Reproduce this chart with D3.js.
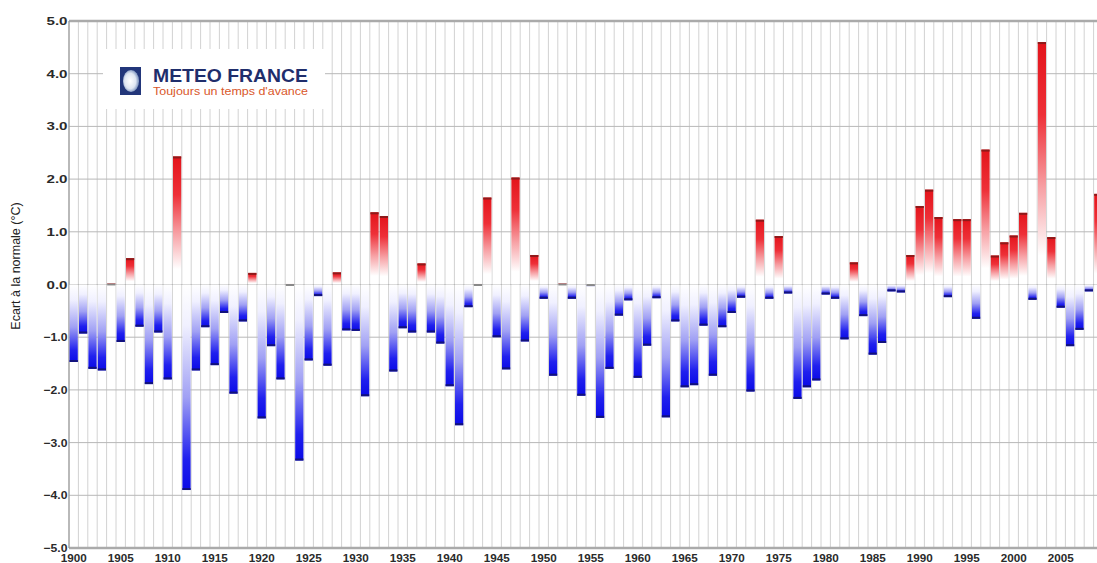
<!DOCTYPE html>
<html><head><meta charset="utf-8">
<script src="https://cdn.jsdelivr.net/npm/d3@7"></script>
<style>body{margin:0;background:#fff;overflow:hidden}</style>
</head><body>
<svg id="c" width="1097" height="563"></svg>
<script>
// ---- data ----
const firstYear = 1900;
const anomalies = [
 -1.47,-0.93,-1.60,-1.63, 0.02,-1.09, 0.50,-0.80,-1.89,-0.91,  // 1900-1909
 -1.80, 2.43,-3.90,-1.63,-0.81,-1.53,-0.54,-2.07,-0.70, 0.22,  // 1910-1919
 -2.54,-1.17,-1.80, 0.01,-3.34,-1.44,-0.22,-1.54, 0.23,-0.87,  // 1920-1929
 -0.88,-2.12, 1.37, 1.30,-1.65,-0.83,-0.91, 0.40,-0.91,-1.12,  // 1930-1939
 -1.93,-2.67,-0.43, 0.01, 1.65,-1.00,-1.61, 2.03,-1.08, 0.56,  // 1940-1949
 -0.27,-1.73, 0.02,-0.27,-2.11,-0.03,-2.53,-1.60,-0.59,-0.30,  // 1950-1959
 -1.77,-1.16,-0.26,-2.52,-0.70,-1.95,-1.91,-0.78,-1.73,-0.81,  // 1960-1969
 -0.54,-0.25,-2.03, 1.23,-0.27, 0.92,-0.17,-2.17,-1.95,-1.82,  // 1970-1979
 -0.19,-0.27,-1.04, 0.42,-0.60,-1.33,-1.11,-0.13,-0.15, 0.56,  // 1980-1989
  1.49, 1.80, 1.28,-0.24, 1.24, 1.24,-0.65, 2.56, 0.55, 0.80,  // 1990-1999
  0.93, 1.36,-0.29, 4.60, 0.90,-0.44,-1.17,-0.86,-0.13, 1.72   // 2000-2009
];
const years = anomalies.map((_, i) => firstYear + i);
const yTicks = [-5,-4,-3,-2,-1,0,1,2,3,4,5];
const xTickYears = [1900,1905,1910,1915,1920,1925,1930,1935,1940,1945,1950,1955,1960,1965,1970,1975,1980,1985,1990,1995,2000,2005];
const yTitle = "Ecart à la normale (°C)";
const logoTitle = "METEO FRANCE";
const logoSub = "Toujours un temps d'avance";

// ---- layout ----
const svg = d3.select("#c");
const left = 69, step = 9.4;
const x = d3.scaleBand().domain(years).range([left, left + years.length * step]).padding(0);
const y = d3.scaleLinear().domain([-5, 5]).range([548, 21]);
const font = "Liberation Sans, Arial, sans-serif";

const defs = svg.append("defs");
function grad(id, stops) {
  const g = defs.append("linearGradient").attr("id", id).attr("x1",0).attr("y1",0).attr("x2",0).attr("y2",1);
  stops.forEach(s => g.append("stop").attr("offset", s[0]).attr("stop-color", s[1]));
}
grad("gPos", [["0%","#e3141b"],["30%","#ee3038"],["60%","#f7a0a4"],["88%","#ffffff"]]);
grad("gNeg", [["0%","#ffffff"],["20%","#f0f0ff"],["55%","#a0a0f4"],["85%","#2020ee"],["100%","#0a0ae6"]]);
const gLogo = defs.append("radialGradient").attr("id","gLogo").attr("cx","0.45").attr("cy","0.5").attr("r","0.5");
gLogo.append("stop").attr("offset","0%").attr("stop-color","#ffffff");
gLogo.append("stop").attr("offset","70%").attr("stop-color","#dfe6f2");
gLogo.append("stop").attr("offset","100%").attr("stop-color","#8fa3c8");

// vertical grid (year boundaries)
svg.append("g").selectAll("line").data(years.concat([firstYear + years.length]))
  .join("line")
  .attr("x1", (d,i) => left + i*step).attr("x2", (d,i) => left + i*step)
  .attr("y1", y(5)).attr("y2", y(-5))
  .attr("stroke", "#d2d2d2").attr("stroke-width", 1);

// horizontal grid
svg.append("g").selectAll("line").data(yTicks.filter(t => t > -5 && t < 5))
  .join("line")
  .attr("x1", left).attr("x2", 1097)
  .attr("y1", d => y(d)).attr("y2", d => y(d))
  .attr("stroke", "#b8b8b8").attr("stroke-width", 1);

// frame lines
svg.append("line").attr("x1", left).attr("x2", 1097).attr("y1", y(5)).attr("y2", y(5))
  .attr("stroke", "#aaaaaa").attr("stroke-width", 2.5);
svg.append("line").attr("x1", left).attr("x2", 1097).attr("y1", y(-5)).attr("y2", y(-5))
  .attr("stroke", "#aaaaaa").attr("stroke-width", 2.5);
svg.append("line").attr("x1", left).attr("x2", left).attr("y1", y(5)).attr("y2", y(-5))
  .attr("stroke", "#999999").attr("stroke-width", 1.2);

// logo box
const logo = svg.append("g");
logo.append("rect").attr("x", 103).attr("y", 49).attr("width", 222).attr("height", 60).attr("fill", "#ffffff");
logo.append("rect").attr("x", 120).attr("y", 67).attr("width", 21).attr("height", 28).attr("fill", "#22367a");
logo.append("ellipse").attr("cx", 131).attr("cy", 81).attr("rx", 8).attr("ry", 11).attr("fill", "url(#gLogo)");
logo.append("text").attr("x", 153).attr("y", 82).text(logoTitle)
  .attr("font-family", font).attr("font-weight", "bold")
  .attr("font-size", 18.5).attr("fill", "#1f2e6c").attr("textLength", 155).attr("lengthAdjust", "spacingAndGlyphs");
logo.append("text").attr("x", 153).attr("y", 95).text(logoSub)
  .attr("font-family", font)
  .attr("font-size", 10.5).attr("fill", "#d9572a").attr("textLength", 155).attr("lengthAdjust", "spacingAndGlyphs");

// bars
const bars = svg.append("g");
bars.selectAll("rect").data(years).join("rect")
  .attr("x", d => x(d) + 0.6)
  .attr("width", x.bandwidth() - 1.2)
  .attr("y", (d,i) => anomalies[i] >= 0 ? y(anomalies[i]) : y(0))
  .attr("height", (d,i) => Math.abs(y(anomalies[i]) - y(0)))
  .attr("fill", (d,i) => anomalies[i] >= 0 ? "url(#gPos)" : "url(#gNeg)");
// dark end caps
bars.selectAll("line").data(years).join("line")
  .attr("x1", d => x(d) + 0.6).attr("x2", d => x(d) + x.bandwidth() - 0.6)
  .attr("y1", (d,i) => y(anomalies[i]) + (anomalies[i] >= 0 ? 1 : -1))
  .attr("y2", (d,i) => y(anomalies[i]) + (anomalies[i] >= 0 ? 1 : -1))
  .attr("stroke", (d,i) => Math.abs(anomalies[i]) < 0.05 ? "#888888" : (anomalies[i] >= 0 ? "#8e1a1a" : "#12127a"))
  .attr("stroke-width", 2);

// y axis labels
svg.append("g").selectAll("text").data(yTicks).join("text")
  .attr("x", 67.5).attr("y", d => y(d) + 4)
  .attr("text-anchor", "end")
  .attr("font-family", font).attr("font-size", 11).attr("font-weight", "bold")
  .attr("fill", "#2a2a2a")
  .attr("textLength", d => d < 0 ? 24 : 21).attr("lengthAdjust", "spacingAndGlyphs")
  .text(d => d3.format(".1f")(d));

// x axis labels
svg.append("g").selectAll("text").data(xTickYears).join("text")
  .attr("x", d => x(d) + x.bandwidth()/2).attr("y", 561.5)
  .attr("text-anchor", "middle")
  .attr("font-family", font).attr("font-size", 11).attr("font-weight", "bold")
  .attr("fill", "#2a2a2a")
  .attr("textLength", 26).attr("lengthAdjust", "spacingAndGlyphs")
  .text(d => d);

// y title
svg.append("text")
  .attr("transform", "translate(20,266) rotate(-90)")
  .attr("text-anchor", "middle")
  .attr("font-family", font).attr("font-size", 12.5)
  .attr("fill", "#222222")
  .text(yTitle);
</script>
</body></html>
